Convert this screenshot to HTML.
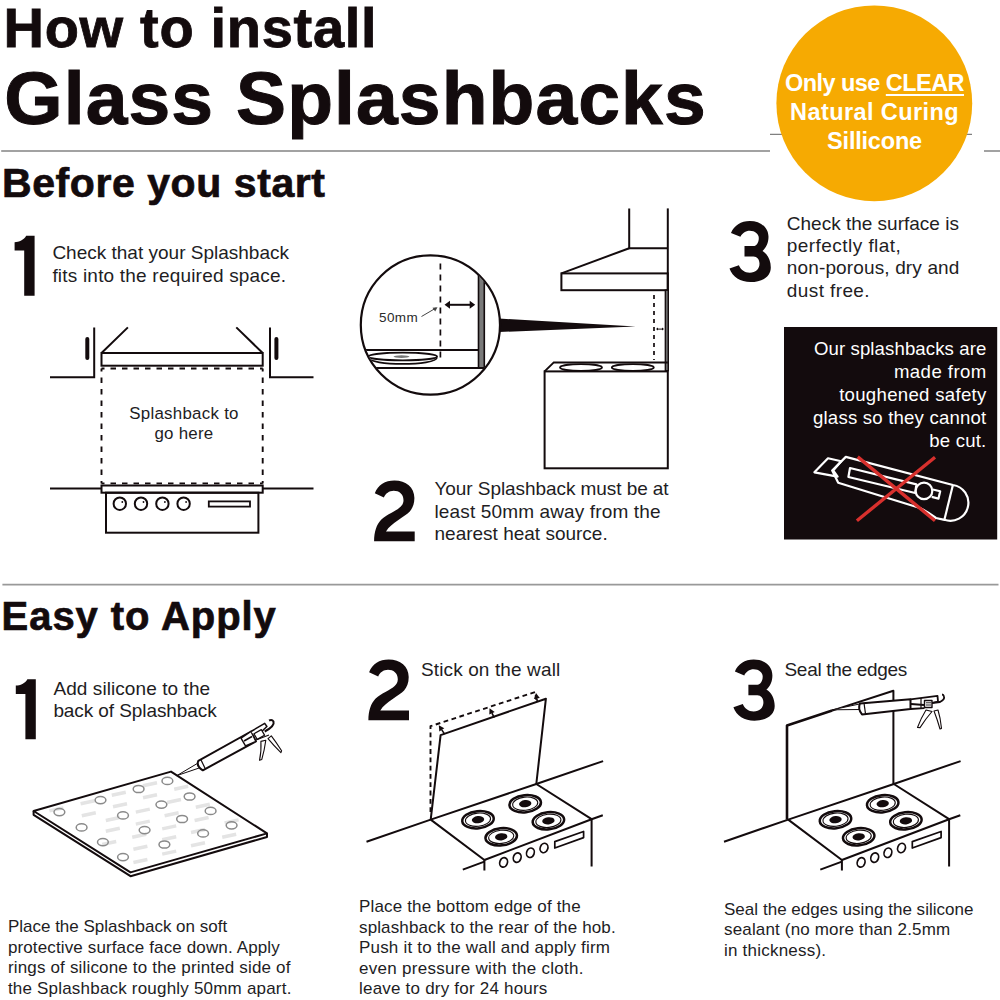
<!DOCTYPE html>
<html><head><meta charset="utf-8">
<style>
html,body{margin:0;padding:0;background:#fff;}
body{width:1000px;height:1000px;position:relative;overflow:hidden;font-family:"Liberation Sans",sans-serif;color:#221d1f;}
.t{position:absolute;white-space:pre;}
.b{font-weight:bold;color:#130b0d;}
.n{font-weight:bold;color:#130b0d;font-size:84px;line-height:84px;}
.p{font-size:19px;line-height:22.5px;}
.q{font-size:17px;line-height:20.4px;}
svg{position:absolute;left:0;top:0;}
</style></head><body>
<svg width="1000" height="1000" viewBox="0 0 1000 1000">
  <g stroke="#a2a2a2" stroke-width="2" fill="none">
    <line x1="1.2" y1="151" x2="770" y2="151"/>
    <line x1="770" y1="134.4" x2="972" y2="134.4" stroke-width="1.1" stroke="#808080"/>
    <line x1="984" y1="151" x2="1000" y2="151"/>
    <line x1="2.4" y1="584.6" x2="998.5" y2="584.6" stroke="#999" stroke-width="1.8"/>
  </g>
  <circle cx="874.3" cy="103.3" r="97.9" fill="#f6aa02"/>

  <!-- Before step 1 diagram -->
  <g stroke="#130b0d" stroke-width="2" fill="none">
    <path d="M50,377.3 H94.2 V327.4"/>
    <path d="M270,327.4 V377.3 H313.5"/>
    <line x1="87.3" y1="339" x2="87.3" y2="358" stroke-width="4" stroke-linecap="round"/>
    <line x1="276.4" y1="339" x2="276.4" y2="358" stroke-width="4" stroke-linecap="round"/>
    <path d="M127.9,327.4 L101.5,353 M236.3,327.4 L262.7,353"/>
    <rect x="101.5" y="353" width="161.2" height="12.7"/>
    <path d="M101.5,368.5 H262.7 M101.5,368.5 V483.4 M262.7,368.5 V483.4 M101.5,483.4 H262.7" stroke-dasharray="5.5 6" stroke-dashoffset="2.5" stroke-width="1.9"/>
    <line x1="50" y1="488.4" x2="313.5" y2="488.4"/>
    <rect x="101.5" y="485.5" width="161.2" height="7.2" fill="#fff"/>
    <rect x="106" y="492.7" width="152.4" height="40"/>
    <circle cx="119.8" cy="503.7" r="6.2"/>
    <circle cx="141" cy="503.7" r="6.2"/>
    <circle cx="162.4" cy="503.7" r="6.2"/>
    <circle cx="183.6" cy="503.7" r="6.2"/>
    <rect x="208.8" y="501.4" width="41.2" height="5.2" stroke-width="1.8"/>
    <g fill="#130b0d" stroke="none"><circle cx="122.3" cy="502" r="0.9"/><circle cx="143.5" cy="502" r="0.9"/><circle cx="164.9" cy="502" r="0.9"/><circle cx="186.1" cy="502" r="0.9"/></g>
  </g>

  <!-- Before step 2 diagram -->
  <defs><clipPath id="cc"><circle cx="430.4" cy="325" r="69"/></clipPath></defs>
  <polygon points="499,318.5 635.6,326.6 499,332" fill="#130b0d"/>
  <circle cx="430.4" cy="325" r="69.6" fill="#fff" stroke="#130b0d" stroke-width="2.2"/>
  <g clip-path="url(#cc)" stroke="#130b0d" fill="none" stroke-width="2">
    <line x1="440.4" y1="262" x2="440.4" y2="359" stroke-dasharray="6 5" stroke-dashoffset="-1.6" stroke-width="1.7"/>
    <rect x="478.5" y="274.5" width="5.8" height="93.5" fill="#7a7a7a" stroke-width="1.6"/>
    <line x1="355" y1="350" x2="478.5" y2="350"/>
    <line x1="355" y1="368" x2="484.3" y2="368"/>
    <path d="M368.5,357.5 C369,366 436,366 437,357.5" fill="#fff" stroke-width="1.8"/>
    <ellipse cx="402.8" cy="356.5" rx="34.3" ry="3.9" fill="#fff" stroke-width="1.8"/>
    <ellipse cx="401.5" cy="356.6" rx="8" ry="1.3" fill="#777" stroke="none"/>
  </g>
  <g stroke="#130b0d" fill="#130b0d">
    <line x1="447" y1="304.8" x2="473" y2="304.8" stroke-width="2"/>
    <path d="M444.5,304.8 L450,300.8 L450,308.8 Z M475.2,304.8 L469.7,300.8 L469.7,308.8 Z" stroke="none"/>
    <line x1="421.5" y1="316.5" x2="436" y2="308" stroke="#444" stroke-width="1"/>
    <path d="M437.5,307.2 L432.5,307.8 L435.2,311.5 Z" fill="#444" stroke="none"/>
  </g>
  <!-- hood diagram -->
  <g stroke="#130b0d" stroke-width="2" fill="none">
    <path d="M629.2,208.4 V248.2 H667.8"/>
    <line x1="667.8" y1="208.4" x2="667.8" y2="371"/>
    <path d="M629.2,248.2 L561.4,273.4"/>
    <rect x="561.4" y="273.4" width="106.4" height="16.8"/>
    <rect x="665.3" y="290.2" width="3" height="80.5" fill="#6a6a6a" stroke-width="1.3"/>
    <line x1="654" y1="295" x2="654" y2="360" stroke-dasharray="4 4" stroke-width="1.7"/>
    <line x1="657" y1="329.1" x2="663" y2="329.1" stroke-width="1"/><path d="M656,329.1 l2,-1.5 v3 Z M664,329.1 l-2,-1.5 v3 Z" fill="#130b0d" stroke="none"/>
    <path d="M544.6,371.4 L553.8,362.4 H667.8"/>
    <ellipse cx="581" cy="367.5" rx="21" ry="3.3" stroke-width="1.8"/>
    <ellipse cx="632.8" cy="367.5" rx="21" ry="3.3" stroke-width="1.8"/>
    <rect x="544.6" y="371.4" width="123.2" height="96.9"/>
  </g>

  <!-- black box -->
  <rect x="784" y="327" width="213.2" height="212.5" fill="#130b0d"/>
  <g stroke="#fff" stroke-width="2.2" fill="none" stroke-linejoin="round">
    <path d="M814.4,472.3 L828,458.3 L841.2,461.3 L833.2,470.4 L837.6,476.6 Z"/>
    <path d="M845.8,456.9 L952.9,485 A18,18 0 1 1 944.4,519.8 L936,518 Q928,512 920,508 L838.2,482.8 L832.2,470.5 Z"/>
    <line x1="952.9" y1="485" x2="944.4" y2="519.8"/>
    <path d="M850,468 L916.4,484.4 L915.2,493 L848.4,477 Z"/>
    <circle cx="924" cy="490.9" r="8.3" fill="#130b0d"/>
    <path d="M932.8,489.5 L940.2,491.2 L938.5,498.6 L931.7,496.9"/>
  </g>
  <g stroke="#d8302d" stroke-width="3.4">
    <line x1="857.7" y1="456.9" x2="935" y2="520.7"/>
    <line x1="935" y1="457.2" x2="856.9" y2="520.7"/>
  </g>

  <!-- Easy step1: panel -->
  <g stroke="#130b0d" stroke-width="2" fill="#fff" stroke-linejoin="round">
    <path d="M33.6,811 V814.8 L130.5,876.2 L267,837 V833.4"/>
    <path d="M33.6,811 L171,771.6 L267,833.4 L130.5,872.4 Z"/>
  </g>
  <g stroke="#e4e4e4" stroke-width="3.5"><path d="M143.0,785.7 l14,-3 M174.2,789.3 l14,-3 M111.8,795.3 l14,-3 M143.0,797.7 l14,-3 M80.6,803.7 l14,-3 M113.0,806.8 l14,-3 M167.0,802.5 l14,-3 M195.8,807.3 l14,-3 M49.4,810.9 l14,-3 M81.8,815.7 l14,-3 M135.8,812.1 l14,-3 M164.6,815.7 l14,-3 M194.6,820.5 l14,-3 M224.6,822.9 l14,-3 M105.8,820.5 l14,-3 M135.8,824.1 l14,-3 M162.2,828.9 l14,-3 M105.8,831.3 l14,-3 M132.2,837.3 l14,-3 M191.0,832.5 l14,-3 M222.2,837.3 l14,-3 M162.2,839.7 l14,-3 M102.2,844.5 l14,-3 M133.4,849.3 l14,-3 M162.2,854.1 l14,-3 M191.0,845.7 l14,-3 M133.4,862.5 l14,-3"/></g>
  <g stroke="#8a8a8a" stroke-width="1.5" fill="none">
    <ellipse cx="59.4" cy="812.1" rx="5.4" ry="3.6"/>
    <ellipse cx="100.5" cy="800.1" rx="5.4" ry="3.6"/>
    <ellipse cx="138.6" cy="789" rx="5.4" ry="3.6"/>
    <ellipse cx="167.4" cy="780.9" rx="5.4" ry="3.6"/>
    <ellipse cx="81.6" cy="827.4" rx="5.4" ry="3.6"/>
    <ellipse cx="123" cy="815.4" rx="5.4" ry="3.6"/>
    <ellipse cx="161.4" cy="804.6" rx="5.4" ry="3.6"/>
    <ellipse cx="189.6" cy="796.5" rx="5.4" ry="3.6"/>
    <ellipse cx="102.9" cy="842.1" rx="5.4" ry="3.6"/>
    <ellipse cx="144.6" cy="830.1" rx="5.4" ry="3.6"/>
    <ellipse cx="182.1" cy="819" rx="5.4" ry="3.6"/>
    <ellipse cx="210.6" cy="810.9" rx="5.4" ry="3.6"/>
    <ellipse cx="123" cy="857.1" rx="5.4" ry="3.6"/>
    <ellipse cx="164.4" cy="844.5" rx="5.4" ry="3.6"/>
    <ellipse cx="203.1" cy="833.4" rx="5.4" ry="3.6"/>
    <ellipse cx="231.6" cy="825.3" rx="5.4" ry="3.6"/>
  </g>
  <!-- caulk gun 1 -->
  <g stroke="#130b0d" stroke-width="1.5" fill="#fff" stroke-linejoin="round">
    <path d="M176.9,775.6 L197.8,763.2 L200.3,767.6 Z" stroke-width="1"/>
    <path d="M198.3,760.8 L251,731.5 L255.9,741.4 L202.8,770.3 Q196,766 198.3,760.8 Z" stroke-width="2"/>
    <line x1="200.8" y1="759.6" x2="205.3" y2="768.8" stroke-width="1.2"/>
    <path d="M241,738.1 L251,731.5 L255.9,741.4 L245.5,745.8 Z" stroke-width="1.4"/>
    <path d="M244,741 L252,736.5" stroke-width="1.6"/>
    <path d="M251,731.5 L264.7,723.3 L266.9,726.5 L255.9,737" stroke-width="1.5"/>
    <path d="M264.7,731.5 Q275,726 273.5,721.5 Q272,719 269.1,720.5" stroke-width="2" fill="none"/>
    <rect x="255" y="731.3" width="8.5" height="6.4" transform="rotate(-30 259.2 734.5)" stroke-width="1.2"/>
    <path d="M256,740 L269,735" stroke-width="1.2"/>
    <path d="M260.9,741.4 Q261.5,752 259.5,760.3 L261.8,759.4 Q264.5,750 265.8,740.3 Z" stroke-width="1.1"/>
    <path d="M268,738.7 Q274,746 280.9,752.6 L281.6,750.8 Q276,742 271.3,735.9 Z" stroke-width="1.1"/>
  </g>

  <!-- kitchen base step 2 -->
  <g stroke="#130b0d" stroke-width="2" fill="none" stroke-linejoin="round">
    <path d="M366.5,841.7 L430.7,819.6 L536.3,784 L603.1,761.1"/>
    <path d="M536.3,784 L591.6,819.2 L484.4,860 L430.7,819.6"/>
    <path d="M462.8,869.6 L484.4,861.6 M591.6,819.2 L602.8,815.2"/>
    <path d="M484.4,860 V870.5 M591.6,819.2 V866.4"/>
    <g transform="rotate(-6 478 819.7)"><ellipse cx="478" cy="819.7" rx="15.8" ry="8.6" stroke-width="2.5"/><ellipse cx="478" cy="819.7" rx="12.6" ry="6.6" stroke-width="1.1"/><ellipse cx="478" cy="819.7" rx="6.2" ry="3.6" fill="#130b0d" stroke="none"/></g>
    <g transform="rotate(-6 525.2 803.7)"><ellipse cx="525.2" cy="803.7" rx="15.8" ry="8.6" stroke-width="2.5"/><ellipse cx="525.2" cy="803.7" rx="12.6" ry="6.6" stroke-width="1.1"/><ellipse cx="525.2" cy="803.7" rx="6.2" ry="3.6" fill="#130b0d" stroke="none"/></g>
    <g transform="rotate(-6 501.2 836.8)"><ellipse cx="501.2" cy="836.8" rx="15.8" ry="8.6" stroke-width="2.5"/><ellipse cx="501.2" cy="836.8" rx="12.6" ry="6.6" stroke-width="1.1"/><ellipse cx="501.2" cy="836.8" rx="6.2" ry="3.6" fill="#130b0d" stroke="none"/></g>
    <g transform="rotate(-6 548.4 820.8)"><ellipse cx="548.4" cy="820.8" rx="15.8" ry="8.6" stroke-width="2.5"/><ellipse cx="548.4" cy="820.8" rx="12.6" ry="6.6" stroke-width="1.1"/><ellipse cx="548.4" cy="820.8" rx="6.2" ry="3.6" fill="#130b0d" stroke="none"/></g>
    <g stroke-width="1.7">
      <ellipse cx="503.6" cy="862.4" rx="3.8" ry="4.8" transform="rotate(20 503.6 862.4)"/>
      <ellipse cx="517.2" cy="857.6" rx="3.8" ry="4.8" transform="rotate(20 517.2 857.6)"/>
      <ellipse cx="530.4" cy="852.8" rx="3.8" ry="4.8" transform="rotate(20 530.4 852.8)"/>
      <ellipse cx="544" cy="848" rx="3.8" ry="4.8" transform="rotate(20 544 848)"/>
      <path d="M554.8,841.6 L583.6,831.5 V837.6 L554.8,848 Z"/>
    </g>
  </g>
  <g transform="translate(357.5 0)" stroke="#130b0d" stroke-width="2" fill="none" stroke-linejoin="round">
    <path d="M366.5,841.7 L430.7,819.6 L536.3,784 L603.1,761.1"/>
    <path d="M536.3,784 L591.6,819.2 L484.4,860 L430.7,819.6"/>
    <path d="M462.8,869.6 L484.4,861.6 M591.6,819.2 L602.8,815.2"/>
    <path d="M484.4,860 V870.5 M591.6,819.2 V866.4"/>
    <g transform="rotate(-6 478 819.7)"><ellipse cx="478" cy="819.7" rx="15.8" ry="8.6" stroke-width="2.5"/><ellipse cx="478" cy="819.7" rx="12.6" ry="6.6" stroke-width="1.1"/><ellipse cx="478" cy="819.7" rx="6.2" ry="3.6" fill="#130b0d" stroke="none"/></g>
    <g transform="rotate(-6 525.2 803.7)"><ellipse cx="525.2" cy="803.7" rx="15.8" ry="8.6" stroke-width="2.5"/><ellipse cx="525.2" cy="803.7" rx="12.6" ry="6.6" stroke-width="1.1"/><ellipse cx="525.2" cy="803.7" rx="6.2" ry="3.6" fill="#130b0d" stroke="none"/></g>
    <g transform="rotate(-6 501.2 836.8)"><ellipse cx="501.2" cy="836.8" rx="15.8" ry="8.6" stroke-width="2.5"/><ellipse cx="501.2" cy="836.8" rx="12.6" ry="6.6" stroke-width="1.1"/><ellipse cx="501.2" cy="836.8" rx="6.2" ry="3.6" fill="#130b0d" stroke="none"/></g>
    <g transform="rotate(-6 548.4 820.8)"><ellipse cx="548.4" cy="820.8" rx="15.8" ry="8.6" stroke-width="2.5"/><ellipse cx="548.4" cy="820.8" rx="12.6" ry="6.6" stroke-width="1.1"/><ellipse cx="548.4" cy="820.8" rx="6.2" ry="3.6" fill="#130b0d" stroke="none"/></g>
    <g stroke-width="1.7">
      <ellipse cx="503.6" cy="862.4" rx="3.8" ry="4.8" transform="rotate(20 503.6 862.4)"/>
      <ellipse cx="517.2" cy="857.6" rx="3.8" ry="4.8" transform="rotate(20 517.2 857.6)"/>
      <ellipse cx="530.4" cy="852.8" rx="3.8" ry="4.8" transform="rotate(20 530.4 852.8)"/>
      <ellipse cx="544" cy="848" rx="3.8" ry="4.8" transform="rotate(20 544 848)"/>
      <path d="M554.8,841.6 L583.6,831.5 V837.6 L554.8,848 Z"/>
    </g>
  </g>
  <!-- step 2 panel -->
  <g stroke="#130b0d" stroke-width="2" fill="none" stroke-linejoin="round">
    <path d="M430.7,819.6 L440.6,735.1 L545.9,698.7 L536.3,784"/>
    <path d="M430.5,812 V726.2 L535.5,691.9 L536.2,701" stroke-dasharray="4.8 3.5" stroke-width="1.9"/>
    <g><path d="M438.8,725.3 L444.3,728.2 L439.3,731.5 Z" fill="#130b0d" stroke="none"/><line x1="441.8" y1="729.9" x2="444.6" y2="734.1" stroke-width="1.6"/><path d="M489.5,708.3 L494.7,711.9 L489.3,714.6 Z" fill="#130b0d" stroke="none"/><line x1="492.0" y1="713.2" x2="494.2" y2="717.7" stroke-width="1.6"/><path d="M536.0,693.0 L539.8,698.0 L533.9,698.9 Z" fill="#130b0d" stroke="none"/><line x1="536.8" y1="698.4" x2="537.3" y2="701.4" stroke-width="1.6"/></g>
  </g>
  <!-- step 3 panel -->
  <g stroke="#130b0d" stroke-width="2" fill="none" stroke-linejoin="round">
    <path d="M787,819.4 V725.5 L832.2,710.6" stroke-width="2.6"/>
    <path d="M832.2,710.6 L893.4,690.8 V784"/>
  </g>
  <!-- caulk gun 3 -->
  <g stroke="#130b0d" stroke-width="1.5" fill="#fff" stroke-linejoin="round">
    <path d="M832.2,709.8 L859.5,704 L860,709.5 Z" stroke-width="1"/>
    <path d="M860,703.4 L910.5,699.3 L910.5,709 L862,714.4 Q857.5,709 860,703.4 Z" stroke-width="2"/>
    <line x1="864" y1="703" x2="865.5" y2="713.8" stroke-width="1.2"/>
    <path d="M910.5,699.3 L937.5,695.8 L938,701.5 L932,703 M910.5,709 L924.5,708.2" stroke-width="1.8"/>
    <line x1="921" y1="698" x2="921" y2="708.3" stroke-width="1.2"/>
    <line x1="911" y1="704" x2="924" y2="705" stroke-width="1.8"/>
    <rect x="924.5" y="700.5" width="7.5" height="7" stroke-width="1.4"/>
    <path d="M926,702.8 H931 M926,705 H931" stroke-width="0.9"/>
    <path d="M932,703 L940,702 Q945,699.5 944,696.5 Q943.5,694.5 942,694.5" stroke-width="1.8" fill="none"/>
    <path d="M926,710 Q921,718 917.5,727.5 L920,727.6 Q925.5,719 932,711.5 Z" stroke-width="1.1"/>
    <path d="M934,711 Q937.5,720 940,729 L941.5,728.4 Q940.5,718 938,710 Z" stroke-width="1.1"/>
  </g>
  <!-- digits -->
  <g fill="#130b0d">
    <path transform="translate(14.6 235.8)" d="M20,0 V60 H9.6 V14.8 H0 V6.4 C4.4,6.2 9.4,4.2 11.6,0 Z"/>
    <path transform="translate(374.1 480.6)" d="M0.7,12.7 C4,4.5 11,0 20.3,0 C32,0 40.3,7 40.3,17.5 C40.3,23.5 38.5,27.5 35.7,30.8 C31,36 17,42 11.9,50.8 H40.6 V60.6 H0 C0,51 2.5,44 7,39.2 C10,36 13.5,34.5 17.5,32.2 C25,28 29.4,25 29.4,19.6 C29.4,13.5 25,10.2 19.6,10.2 C15,10.2 11.5,13 9.8,16.8 Z"/>
    <path transform="translate(729.5 221)" d="M1.5,12 C4.5,4.5 11.5,0 20.3,0 C31,0 39,6.5 39,15.8 C39,22 36.5,27 33,30 C38,33 41.3,39 41.3,46.5 C41.3,55.5 33,61.1 21,61.1 C11,61.1 3,56 0,47.6 L9.4,44.3 C11,48.5 15,51.8 20.3,51.8 C26,51.8 30,48 30,42.8 C30,38.5 27.5,35.6 24,35.6 H15 V25.1 H24 C27,25.1 29.3,21.5 29.3,17 C29.3,13 25.5,9.75 20.3,9.75 C16,9.75 12.5,12.5 10.9,15.8 Z"/>
    <path transform="translate(15.8 679.2)" d="M20,0 V60 H9.6 V14.8 H0 V6.4 C4.4,6.2 9.4,4.2 11.6,0 Z"/>
    <path transform="translate(368.4 659.6)" d="M0.7,12.7 C4,4.5 11,0 20.3,0 C32,0 40.3,7 40.3,17.5 C40.3,23.5 38.5,27.5 35.7,30.8 C31,36 17,42 11.9,50.8 H40.6 V60.6 H0 C0,51 2.5,44 7,39.2 C10,36 13.5,34.5 17.5,32.2 C25,28 29.4,25 29.4,19.6 C29.4,13.5 25,10.2 19.6,10.2 C15,10.2 11.5,13 9.8,16.8 Z"/>
    <path transform="translate(733.4 659.6)" d="M1.5,12 C4.5,4.5 11.5,0 20.3,0 C31,0 39,6.5 39,15.8 C39,22 36.5,27 33,30 C38,33 41.3,39 41.3,46.5 C41.3,55.5 33,61.1 21,61.1 C11,61.1 3,56 0,47.6 L9.4,44.3 C11,48.5 15,51.8 20.3,51.8 C26,51.8 30,48 30,42.8 C30,38.5 27.5,35.6 24,35.6 H15 V25.1 H24 C27,25.1 29.3,21.5 29.3,17 C29.3,13 25.5,9.75 20.3,9.75 C16,9.75 12.5,12.5 10.9,15.8 Z"/>
  </g>
</svg>

<div class="t b" style="left:3.5px;top:-0.4px;font-size:56px;line-height:56px;letter-spacing:0.7px;-webkit-text-stroke:0.8px #130b0d;">How to install</div>
<div class="t b" style="left:4.3px;top:60.5px;font-size:75px;line-height:75px;letter-spacing:1.1px;-webkit-text-stroke:1px #130b0d;">Glass Splashbacks</div>
<div class="t b" style="left:2px;top:162.8px;font-size:41px;line-height:41px;letter-spacing:0.57px;-webkit-text-stroke:0.7px #130b0d;">Before you start</div>
<div class="t b" style="left:1.6px;top:596.1px;font-size:40px;line-height:40px;letter-spacing:0.93px;-webkit-text-stroke:0.7px #130b0d;">Easy to Apply</div>

<div class="t" style="left:784px;top:68.5px;width:181px;text-align:center;color:#fff;font-weight:bold;font-size:23.5px;line-height:29.2px;"><span style="letter-spacing:-0.55px">Only use <u style="text-decoration-thickness:1.5px;text-underline-offset:3px;">CLEAR</u></span>
<span style="letter-spacing:0.4px">Natural Curing</span>
<span style="letter-spacing:-0.2px">Sillicone</span></div>

<div class="t p" style="left:52.4px;top:242.2px;">Check that your Splashback
<span style="letter-spacing:0.2px;">fits into the required space.</span></div>
<div class="t" style="left:80px;top:403.9px;width:208px;text-align:center;font-size:16.9px;line-height:20.5px;"><span style="letter-spacing:0.26px;">Splashback to</span>
<span style="letter-spacing:0.25px;">go here</span></div>
<div class="t" style="left:379px;top:309.9px;font-size:13.5px;line-height:16px;color:#2a2a2a;letter-spacing:0.4px;">50mm</div>

<div class="t p" style="left:434.5px;top:478px;"><span style="letter-spacing:-0.07px;">Your Splashback must be at</span>
<span style="letter-spacing:0.14px;">least 50mm away from the</span>
nearest heat source.</div>

<div class="t p" style="left:786.8px;top:212.6px;line-height:22.4px;">Check the surface is
<span style="letter-spacing:0.45px;">perfectly flat,</span>
<span style="letter-spacing:0.14px;">non-porous, dry and</span>
<span style="letter-spacing:0.4px;">dust free.</span></div>

<div class="t" style="left:790px;top:338.3px;width:196.3px;text-align:right;color:#fff;font-size:18.6px;line-height:22.85px;"><span style="letter-spacing:0.1px;margin-right:-0.1px;">Our splashbacks are</span>
<span style="letter-spacing:0.44px;margin-right:-0.44px;">made from</span>
<span style="letter-spacing:0.3px;margin-right:-0.3px;">toughened safety</span>
<span style="letter-spacing:0.2px;margin-right:-0.2px;">glass so they cannot</span>
<span style="letter-spacing:0.2px;margin-right:-0.2px;">be cut.</span></div>

<div class="t p" style="left:53.4px;top:677.7px;"><span style="letter-spacing:0.08px;">Add silicone to the</span>
<span style="letter-spacing:-0.09px;">back of Splashback</span></div>
<div class="t p" style="left:421px;top:658.7px;"><span style="letter-spacing:0.12px">Stick on the wall</span></div>
<div class="t p" style="left:784.5px;top:659.2px;letter-spacing:-0.3px;">Seal the edges</div>

<div class="t q" style="left:7.9px;top:917px;line-height:20.55px;">Place the Splashback on soft
<span style="letter-spacing:0.13px;">protective surface face down. Apply</span>
<span style="letter-spacing:0.17px;">rings of silicone to the printed side of</span>
<span style="letter-spacing:0.2px;">the Splashback roughly 50mm apart.</span></div>
<div class="t q" style="left:359px;top:897px;line-height:20.55px;"><span style="letter-spacing:0.16px;">Place the bottom edge of the</span>
<span style="letter-spacing:0.13px;">splashback to the rear of the hob.</span>
<span style="letter-spacing:0.19px;">Push it to the wall and apply firm</span>
<span style="letter-spacing:0.29px;">even pressure with the cloth.</span>
<span style="letter-spacing:0.21px;">leave to dry for 24 hours</span></div>
<div class="t q" style="left:724px;top:900px;line-height:20.4px;"><span style="letter-spacing:0.03px;">Seal the edges using the silicone</span>
<span style="letter-spacing:0.16px;">sealant (no more than 2.5mm</span>
<span style="letter-spacing:0.22px;">in thickness).</span></div>
</body></html>
